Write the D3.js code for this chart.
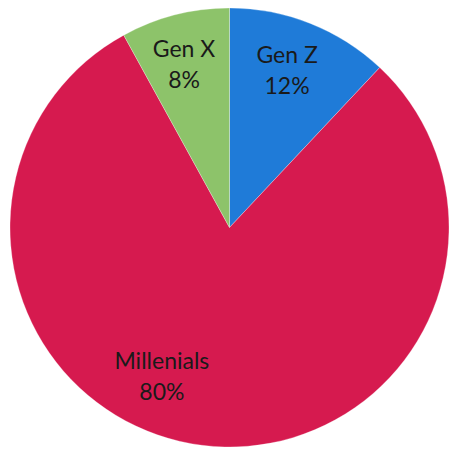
<!DOCTYPE html>
<html>
<head>
<meta charset="utf-8">
<script src="https://cdn.jsdelivr.net/npm/d3@7/dist/d3.min.js"></script>
<style>
  html, body { margin: 0; padding: 0; background: #ffffff; }
  svg { display: block; }
</style>
</head>
<body>
<svg id="chart" width="449" height="453"></svg>
<script>
// Generation shares
const categories = ["Gen Z", "Millenials", "Gen X"];
const values = [12, 80, 8];
const colors = ["#1f7bd8", "#d61a4f", "#8dc36a"];

// Label placement (degrees clockwise from 12 o'clock, distance from centre)
const labelAngles = [20.3, 204.2, -15.7];
const labelRadii = [166, 165, 168];

const width = 449, height = 453;
const cx = 229.5, cy = 227.5, radius = 219.5;

const svg = d3.select("#chart");
const g = svg.append("g").attr("transform", `translate(${cx},${cy})`);

const pie = d3.pie().sort(null).value(d => d.value);
const data = categories.map((c, i) => ({ name: c, value: values[i], color: colors[i], la: labelAngles[i], lr: labelRadii[i] }));
const arcs = pie(data);

const arc = d3.arc().innerRadius(0).outerRadius(radius);

g.selectAll("path.slice")
  .data(arcs)
  .join("path")
  .attr("class", "slice")
  .attr("d", arc)
  .attr("fill", d => d.data.color)
  .attr("stroke", "rgba(255,255,255,0.35)")
  .attr("stroke-width", 0.8);

const fmt = d => `${d.data.value}%`;

const labels = g.selectAll("g.label")
  .data(arcs)
  .join("g")
  .attr("class", "label")
  .attr("transform", d => {
    const a = d.data.la * Math.PI / 180;
    return `translate(${Math.sin(a) * d.data.lr},${-Math.cos(a) * d.data.lr})`;
  });

labels.append("text")
  .attr("text-anchor", "middle")
  .attr("y", -9)
  .attr("font-family", "Lato, 'Open Sans', sans-serif")
  .attr("font-size", 23)
  .attr("fill", "#1a1a1a")
  .text(d => d.data.name);

labels.append("text")
  .attr("text-anchor", "middle")
  .attr("y", 22)
  .attr("font-family", "Lato, 'Open Sans', sans-serif")
  .attr("font-size", 23)
  .attr("fill", "#1a1a1a")
  .text(fmt);
</script>
</body>
</html>
